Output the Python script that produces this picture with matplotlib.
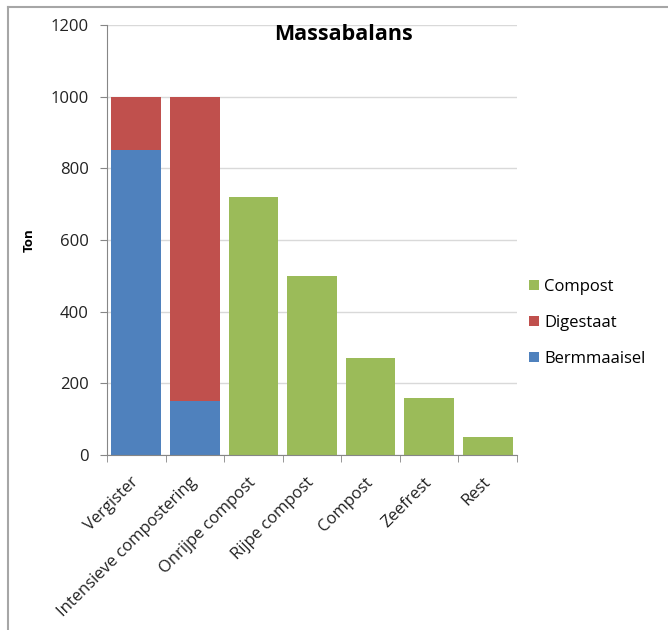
import numpy as np
import matplotlib
matplotlib.use('Agg')
import matplotlib.pyplot as plt
from matplotlib.lines import Line2D
from matplotlib.ticker import FixedLocator

plt.rcParams['font.family'] = ['Open Sans', 'DejaVu Sans']

# Massabalans per stap (ton)
stappen = ['Vergister', 'Intensieve compostering', 'Onrijpe compost',
           'Rijpe compost', 'Compost', 'Zeefrest', 'Rest']
bermmaaisel = [850, 150, 0, 0, 0, 0, 0]
digestaat = [150, 850, 0, 0, 0, 0, 0]
compost = [0, 0, 720, 500, 270, 160, 50]

kleur_berm = '#4F81BD'
kleur_dig = '#C0504D'
kleur_comp = '#9BBB59'

fig = plt.figure(figsize=(6.68, 6.30), dpi=100)
ax = fig.add_axes([107 / 668, 1 - 455 / 630, 410 / 668, 430 / 630])

x = np.arange(len(stappen))
b1 = np.array(bermmaaisel)
b2 = np.array(digestaat)
ax.bar(x, bermmaaisel, width=0.85, color=kleur_berm, label='Bermmaaisel', zorder=2)
ax.bar(x, digestaat, width=0.85, bottom=b1, color=kleur_dig, label='Digestaat', zorder=2)
ax.bar(x, compost, width=0.85, bottom=b1 + b2, color=kleur_comp, label='Compost', zorder=2)

ax.set_xlim(-0.5, len(stappen) - 0.5)
ax.set_ylim(0, 1200)
ax.set_yticks(range(0, 1201, 200))
ax.yaxis.grid(True, color='#d9d9d9', linewidth=1, zorder=0)
ax.set_axisbelow(True)

# categorie-labels in het midden, streepjes tussen de categorieen
ax.set_xticks(x)
ax.set_xticklabels(stappen, rotation=45, ha='right', va='center',
                   rotation_mode='anchor', fontsize=12, color='#222222')
ax.xaxis.set_minor_locator(FixedLocator(np.arange(-0.5, len(stappen), 1.0)))
ax.tick_params(axis='x', which='major', length=0, pad=18)
ax.tick_params(axis='x', which='minor', length=5, color='#868686', direction='out')
ax.tick_params(axis='y', length=5, color='#868686', labelsize=12,
               labelcolor='#222222', pad=8)

for side in ['top', 'right']:
    ax.spines[side].set_visible(False)
for side in ['left', 'bottom']:
    ax.spines[side].set_color('#868686')

ax.set_ylabel('Ton', fontsize=9.5, fontweight='bold')
ax.yaxis.set_label_coords(-0.175, 0.5)

fig.text(343 / 668, 1 - 35 / 630, 'Massabalans', fontsize=15.5, fontweight='bold',
         ha='center', va='center')

handles, labels = ax.get_legend_handles_labels()
fig.legend(handles[::-1], labels[::-1], loc='center left',
           bbox_to_anchor=(529 / 668, 1 - 323 / 630), frameon=False,
           fontsize=12, handlelength=0.6, handleheight=0.6,
           handletextpad=0.3, labelspacing=1.2, borderpad=0, borderaxespad=0)

# kader rond de grafiek
fig.add_artist(Line2D([8 / 668, 1], [1 - 7 / 630, 1 - 7 / 630],
                      transform=fig.transFigure, color='#a6a6a6', linewidth=1.5))
fig.add_artist(Line2D([8 / 668, 8 / 668], [0, 1 - 7 / 630],
                      transform=fig.transFigure, color='#a6a6a6', linewidth=1.5))

fig.savefig('out.png', dpi=100)
